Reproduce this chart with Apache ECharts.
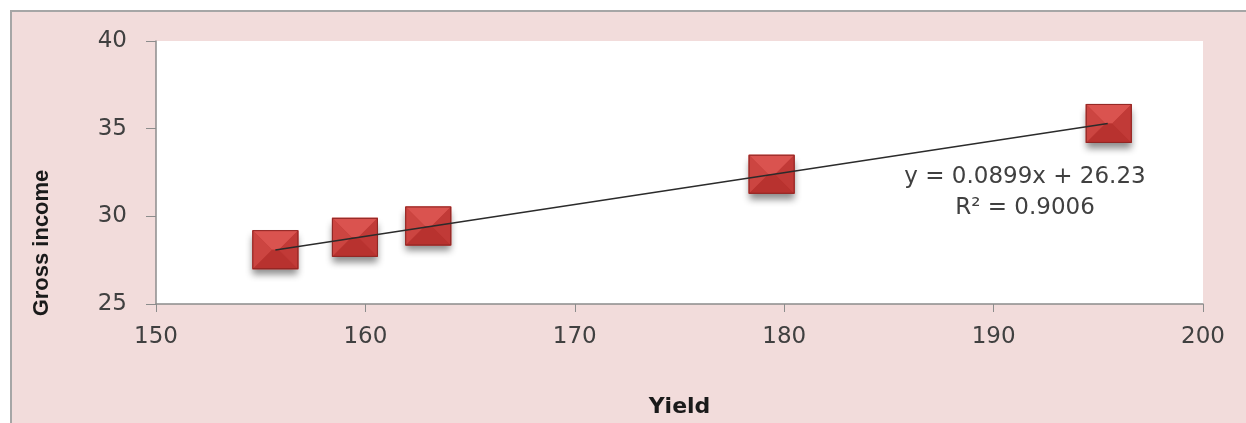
<!DOCTYPE html>
<html>
<head>
<meta charset="utf-8">
<title>Gross income vs Yield</title>
<script src="https://cdn.jsdelivr.net/npm/echarts@6/dist/echarts.min.js"></script>
<style>
  html, body { margin: 0; padding: 0; background: #ffffff; overflow: hidden; }
  #frame {
    position: absolute; left: 10px; top: 10px; width: 1300px; height: 500px;
    background: #f2dcdb; border: 2px solid #a6a6a6; box-sizing: border-box;
  }
  #chart { position: absolute; left: 0; top: 0; width: 1246px; height: 423px; }
</style>
</head>
<body>
<div id="frame"></div>
<div id="chart"></div>
<script>
// Yield (x) and gross income (y) observations
const yieldValues = [155.7, 159.5, 163.0, 179.4, 195.5];
const grossIncome = [28.1, 28.8, 29.45, 32.4, 35.3];

// Linear trendline end points
const trendX = [155.7, 195.45];
const trendY = [28.08, 35.3];

// Trendline annotation
const equationLines = ['y = 0.0899x + 26.23', 'R\u00B2 = 0.9006'];

// Axis ranges
const xRange = { min: 150, max: 200, interval: 10 };
const yRange = { min: 25, max: 40, interval: 5 };

const points = yieldValues.map((x, i) => [x, grossIncome[i]]);
const trendPoints = trendX.map((x, i) => [x, trendY[i]]);

const chart = echarts.init(document.getElementById('chart'), null, { renderer: 'canvas' });

// Bevelled square marker (hip-roof shading)
function bevelMarker(params, api) {
  const c = api.coord([api.value(0), api.value(1)]);
  const w = 46, h = 39;
  const x0 = c[0] - w / 2, y0 = c[1] - h / 2, x1 = x0 + w, y1 = y0 + h;
  const lx = c[0] - (w / 2 - h / 2), rx = c[0] + (w / 2 - h / 2), cy = c[1];
  return {
    type: 'group',
    children: [
      { type: 'rect', shape: { x: x0, y: y0, width: w, height: h },
        style: { fill: '#c23b37', shadowBlur: 7, shadowOffsetY: 6, shadowColor: 'rgba(0,0,0,0.45)' } },
      { type: 'polygon', shape: { points: [[x0, y0], [x1, y0], [rx, cy], [lx, cy]] },
        style: { fill: '#da534f' } },
      { type: 'polygon', shape: { points: [[x0, y1], [x1, y1], [rx, cy], [lx, cy]] },
        style: { fill: '#b8322f' } },
      { type: 'polygon', shape: { points: [[x0, y0], [lx, cy], [x0, y1]] },
        style: { fill: '#cc4541' } },
      { type: 'polygon', shape: { points: [[x1, y0], [rx, cy], [x1, y1]] },
        style: { fill: '#c13a37' } },
      { type: 'rect', shape: { x: x0 + 0.5, y: y0 + 0.5, width: w - 1, height: h - 1 },
        style: { fill: 'none', stroke: '#8e2623', lineWidth: 1 } }
    ]
  };
}

const labelColor = '#404040';
const axisGray = '#8c8c8c';

chart.setOption({
  backgroundColor: 'transparent',
  animation: false,
  grid: {
    left: 156, top: 41, width: 1047, height: 268,
    show: true, backgroundColor: '#ffffff', borderWidth: 0
  },
  xAxis: {
    type: 'value',
    min: xRange.min, max: xRange.max, interval: xRange.interval,
    name: 'Yield',
    nameLocation: 'middle',
    nameGap: 92,
    nameTextStyle: { fontFamily: 'DejaVu Sans', fontWeight: 'bold', fontSize: 22, color: '#1a1a1a', verticalAlign: 'top' },
    axisLine: { show: true, lineStyle: { color: axisGray, width: 1.5 } },
    axisTick: { show: true, length: 8, lineStyle: { color: axisGray } },
    splitLine: { show: false },
    axisLabel: { fontFamily: 'DejaVu Sans', fontSize: 23, color: labelColor, margin: 22 }
  },
  yAxis: {
    type: 'value',
    min: yRange.min, max: yRange.max, interval: yRange.interval,
    axisLine: { show: true, lineStyle: { color: axisGray, width: 1.5 } },
    axisTick: { show: true, length: 10, lineStyle: { color: axisGray } },
    splitLine: { show: false },
    axisLabel: { fontFamily: 'DejaVu Sans', fontSize: 23, color: labelColor, margin: 29 }
  },
  graphic: [
    {
      type: 'text', x: 42, y: 243, rotation: Math.PI / 2,
      style: {
        text: 'Gross income', fontFamily: 'Liberation Sans', fontWeight: 'bold', fontSize: 22,
        fill: '#1a1a1a', align: 'center', verticalAlign: 'middle'
      }
    },
    {
      type: 'text', x: 1025, y: 177,
      style: { text: equationLines[0], fontFamily: 'DejaVu Sans', fontSize: 23, fill: labelColor,
               align: 'center', verticalAlign: 'middle' }
    },
    {
      type: 'text', x: 1025, y: 208,
      style: { text: equationLines[1], fontFamily: 'DejaVu Sans', fontSize: 23, fill: labelColor,
               align: 'center', verticalAlign: 'middle' }
    }
  ],
  series: [
    {
      type: 'custom',
      name: 'Gross income',
      renderItem: bevelMarker,
      data: points,
      z: 2
    },
    {
      type: 'line',
      name: 'Linear trend',
      data: trendPoints,
      showSymbol: false,
      symbol: 'none',
      lineStyle: { color: '#2b2b2b', width: 1.5 },
      z: 5
    }
  ]
});
</script>
</body>
</html>
